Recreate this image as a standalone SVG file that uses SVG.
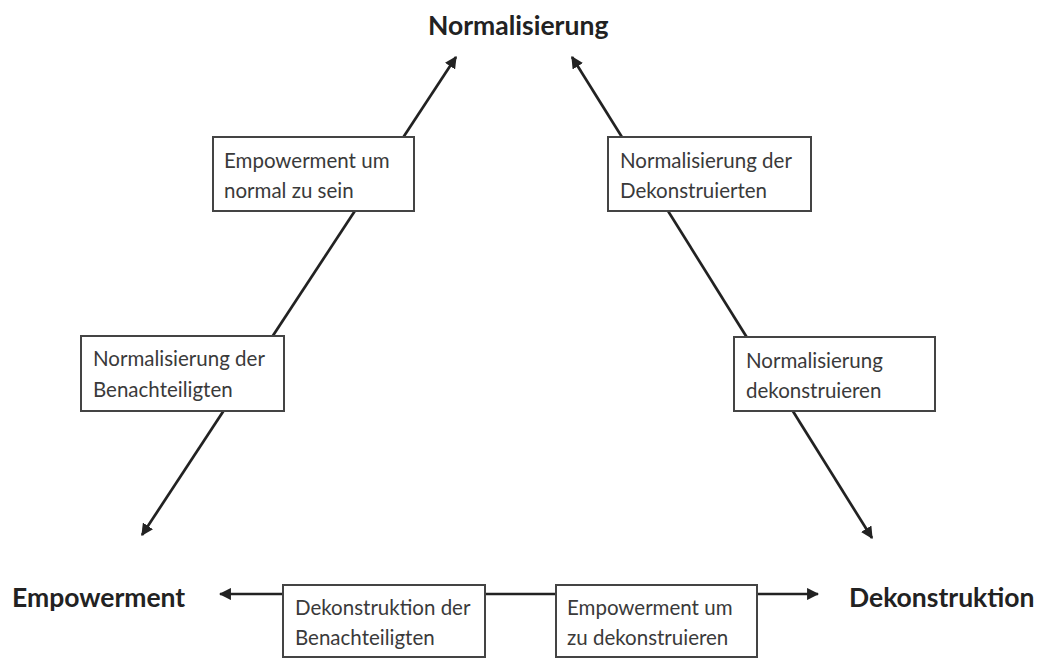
<svg xmlns="http://www.w3.org/2000/svg" width="1038" height="660" viewBox="0 0 1038 660">
<style>
.bg{fill:#fff}
.box{fill:#fff;stroke:#444;stroke-width:2}
.t{font-family:Lato,"Open Sans","Liberation Sans",sans-serif;font-size:20.5px;fill:#3a3a3a}
.h{font-family:Lato,"Open Sans","Liberation Sans",sans-serif;font-size:26.5px;font-weight:bold;fill:#222}
.c{stroke:#222;stroke-width:2.7;fill:none;marker-start:url(#ah);marker-end:url(#ah)}
</style>
<defs>
<marker id="ah" viewBox="0 0 10 10" refX="9" refY="5" markerWidth="4.5" markerHeight="4.5" orient="auto-start-reverse" markerUnits="strokeWidth">
<path d="M0,0 L10,5 L0,10 z" fill="#222"/>
</marker>
</defs>
<rect class="bg" x="0" y="0" width="1038" height="660"/>
<g id="connectors">
<line class="c" x1="142" y1="535" x2="456" y2="57"/>
<line class="c" x1="572" y1="57" x2="872" y2="538"/>
<line class="c" x1="220" y1="594" x2="818" y2="594"/>
</g>
<g id="normalisierung"><text class="h" x="428" y="35">Normalisierung</text></g>
<g id="empowerment"><text class="h" x="12" y="607">Empowerment</text></g>
<g id="dekonstruktion"><text class="h" x="849" y="607">Dekonstruktion</text></g>
<g id="box1"><rect class="box" x="213" y="137" width="201" height="74"/><text class="t" x="224" y="168">Empowerment um</text><text class="t" x="224" y="198">normal zu sein</text></g>
<g id="box2"><rect class="box" x="81" y="336" width="203" height="75"/><text class="t" x="93" y="366">Normalisierung der</text><text class="t" x="93" y="397">Benachteiligten</text></g>
<g id="box3"><rect class="box" x="608" y="137" width="203" height="74"/><text class="t" x="620" y="168">Normalisierung der</text><text class="t" x="620" y="198">Dekonstruierten</text></g>
<g id="box4"><rect class="box" x="734" y="337" width="201" height="74"/><text class="t" x="746" y="368">Normalisierung</text><text class="t" x="746" y="398">dekonstruieren</text></g>
<g id="box5"><rect class="box" x="283" y="585" width="202" height="72"/><text class="t" x="295" y="615">Dekonstruktion der</text><text class="t" x="295" y="645">Benachteiligten</text></g>
<g id="box6"><rect class="box" x="556" y="585" width="201" height="72"/><text class="t" x="567" y="615">Empowerment um</text><text class="t" x="567" y="645">zu dekonstruieren</text></g>
</svg>
